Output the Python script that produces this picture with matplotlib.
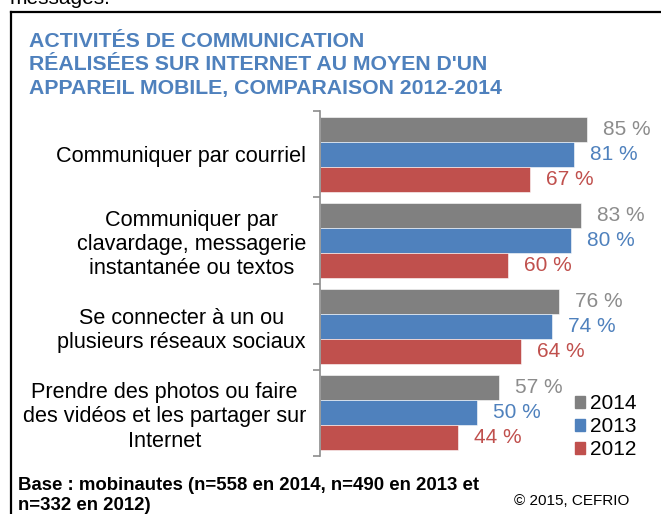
import matplotlib
matplotlib.use("Agg")
import matplotlib.pyplot as plt
import matplotlib.patches as mpatches
from matplotlib.lines import Line2D
import numpy as np

plt.rcParams['font.family'] = ['Liberation Sans', 'DejaVu Sans']

categories = [
    "Communiquer par courriel",
    "Communiquer par\nclavardage, messagerie\ninstantanée ou textos",
    "Se connecter à un ou\nplusieurs réseaux sociaux",
    "Prendre des photos ou faire\ndes vidéos et les partager sur\nInternet",
]
years = ["2014", "2013", "2012"]
v2014 = [85, 83, 76, 57]
v2013 = [81, 80, 74, 50]
v2012 = [67, 60, 64, 44]

bar_colors = ['#808080', '#4F81BD', '#C0504D']
label_colors = ['#8C8C8C', '#4F81BD', '#C0504D']

W, H = 661, 514
fig = plt.figure(figsize=(W / 100, H / 100), dpi=100)

# frame of the original slide
fig.add_artist(Line2D([11 / W, 11 / W], [0, 1 - 12 / H], color='black', lw=1.6))
fig.add_artist(Line2D([11 / W, 1], [1 - 12 / H, 1 - 12 / H], color='black', lw=1.6))

# cropped text from the page above
fig.text(10 / W, 1 - 3.5 / H, "messages.", fontsize=15, va='baseline', ha='left')

title_lines = ["ACTIVITÉS DE COMMUNICATION",
               "RÉALISÉES SUR INTERNET AU MOYEN D'UN",
               "APPAREIL MOBILE, COMPARAISON 2012-2014"]
for line, base in zip(title_lines, [46.7, 70, 94]):
    fig.text(29 / W, 1 - base / H, line, fontsize=15.3, fontweight='bold',
             color='#4F81BD', va='baseline', ha='left')

ax = fig.add_axes([320 / W, 1 - 456 / H, 314 / W, 345 / H])
y = np.arange(len(categories))
h = 0.29
series = [v2014, v2013, v2012]
offsets = [-h, 0, h]
for vals, off, bc, lc in zip(series, offsets, bar_colors, label_colors):
    bars = ax.barh(y + off, vals, height=h, color=bc, edgecolor='white', linewidth=0.4)
    for b, v in zip(bars, vals):
        ax.annotate(f"{v} %", (b.get_width(), b.get_y() + b.get_height() / 2),
                    xytext=(16, 0), textcoords='offset pixels', va='center', ha='left',
                    fontsize=15, color=lc)

ax.set_xlim(0, 100)
ax.set_ylim(len(categories) - 0.5, -0.5)
ax.set_xticks([])
ax.set_yticks(y)
ax.set_yticklabels(categories, fontsize=15.6, multialignment='center', linespacing=1.2)
ax.tick_params(axis='y', which='major', length=0, pad=10)
ax.set_yticks(np.arange(-0.5, len(categories), 1), minor=True)
ax.tick_params(axis='y', which='minor', length=5, width=1.2, color='#8C8C8C', direction='out')
for s in ['top', 'right', 'bottom']:
    ax.spines[s].set_visible(False)
ax.spines['left'].set_color('#8C8C8C')
ax.spines['left'].set_linewidth(1.2)

patches = [mpatches.Patch(color=c, label=l) for c, l in zip(bar_colors, years)]
fig.legend(handles=patches, loc='upper left', bbox_to_anchor=(575 / W, 1 - 394 / H),
           frameon=False, fontsize=15, handlelength=0.5, handleheight=0.5,
           handletextpad=0.2, labelspacing=0.2, borderpad=0, borderaxespad=0)

fig.text(18 / W, 1 - 490 / H, "Base : mobinautes (n=558 en 2014, n=490 en 2013 et",
         fontsize=13.4, fontweight='bold', va='baseline', ha='left')
fig.text(18 / W, 1 - 510 / H, "n=332 en 2012)",
         fontsize=13.4, fontweight='bold', va='baseline', ha='left')
fig.text(514 / W, 1 - 505 / H, "© 2015, CEFRIO", fontsize=11, va='baseline', ha='left')

fig.savefig("out.png", dpi=100)
